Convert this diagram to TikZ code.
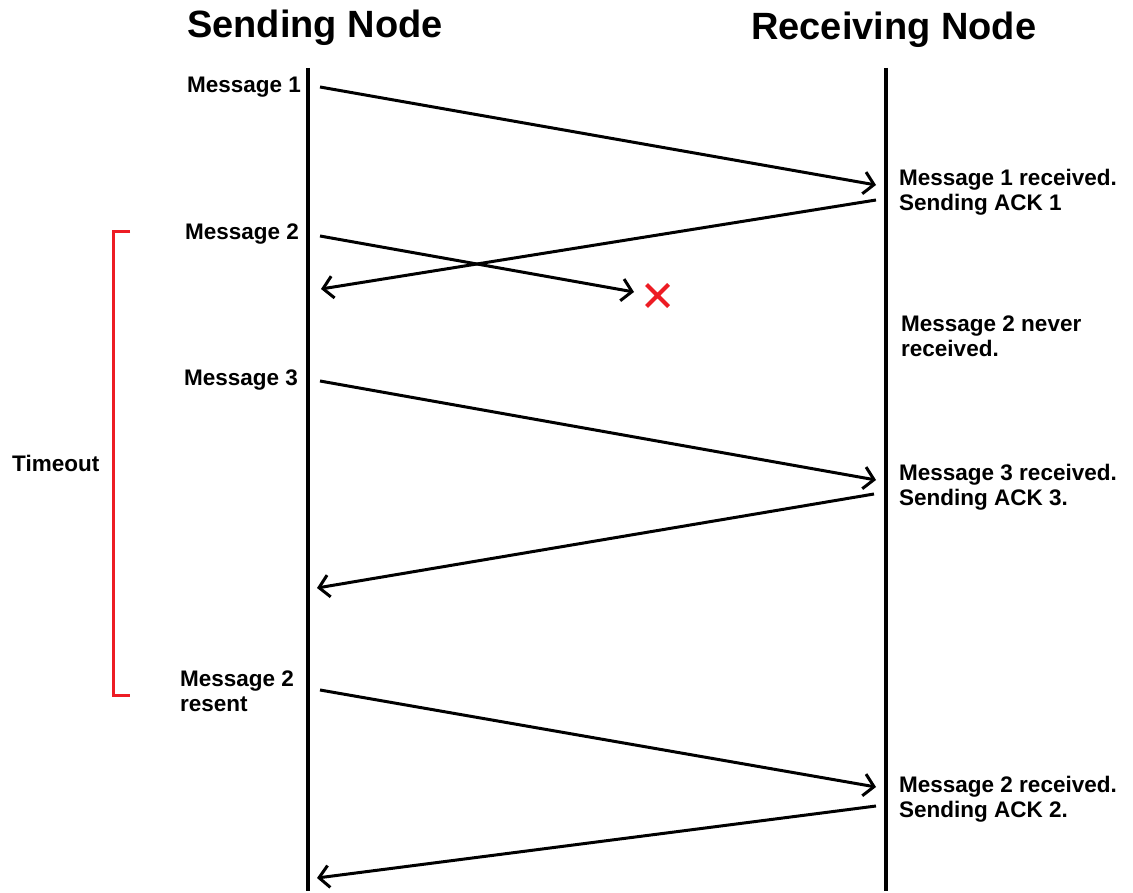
\documentclass[tikz,border=0pt]{standalone}
\usepackage{fontspec}
\setmainfont{Liberation Sans}
\usetikzlibrary{arrows.meta}
\definecolor{paintred}{HTML}{ED1C24}
\tikzset{
  lifeline/.style={line width=3.4pt, black},
  msg/.style={line width=3pt, black, -{Straight Barb[length=10pt,width=22pt,line width=3pt]}},
  title/.style={anchor=base west, inner sep=0pt, font=\fontsize{38}{42}\selectfont\bfseries},
  lbl/.style={anchor=base west, inner sep=0pt, align=left, font=\fontsize{22.5}{25}\selectfont\bfseries},
}
\begin{document}
\begin{tikzpicture}[x=1pt, y=-1pt]
  \useasboundingbox (0,0) rectangle (1133,893);
  \fill[white] (0,0) rectangle (1133,893);

  % headings
  \node[title] (hsend) at (187,38) {Sending Node};
  \node[title] (hrecv) at (751,40) {Receiving Node};

  % lifelines
  \coordinate (sTop) at (308,68);
  \coordinate (sBot) at (308,891);
  \coordinate (rTop) at (886,68);
  \coordinate (rBot) at (886,891);
  \draw[lifeline] (sTop) -- (sBot);
  \draw[lifeline] (rTop) -- (rBot);

  % sender labels (base anchor = last line)
  \node[lbl] (m1) at (187,93) {Message 1};
  \node[lbl] (m2) at (185,240) {Message 2};
  \node[lbl] (m3) at (184,385) {Message 3};
  \node[lbl] (m2r) at (180,711) {Message 2\\resent};
  \node[lbl] (to) at (12,471) {Timeout};

  % receiver labels
  \node[lbl] (r1) at (899,211) {Message 1 received.\\Sending ACK 1};
  \node[lbl] (r2) at (901,357) {Message 2 never\\received.};
  \node[lbl] (r3) at (899,505) {Message 3 received.\\Sending ACK 3.};
  \node[lbl] (r4) at (899,817) {Message 2 received.\\Sending ACK 2.};

  % message endpoints
  \coordinate (a1s) at (320,87);  \coordinate (a1e) at (876,185);
  \coordinate (k1s) at (876,200); \coordinate (k1e) at (321,289);
  \coordinate (a2s) at (320,236); \coordinate (a2e) at (634,292);
  \coordinate (a3s) at (320,381); \coordinate (a3e) at (876,480);
  \coordinate (k3s) at (874,494); \coordinate (k3e) at (317,588);
  \coordinate (a4s) at (320,690); \coordinate (a4e) at (876,787);
  \coordinate (k4s) at (876,806); \coordinate (k4e) at (317,878);

  \draw[msg] (a1s) -- (a1e);
  \draw[msg] (k1s) -- (k1e);
  \draw[msg] (a2s) -- (a2e);
  \draw[msg] (a3s) -- (a3e);
  \draw[msg] (k3s) -- (k3e);
  \draw[msg] (a4s) -- (a4e);
  \draw[msg] (k4s) -- (k4e);

  % lost message mark
  \coordinate (lost) at (657.5,295.5);
  \draw[paintred, line width=4pt] ([shift={(-11,-11)}]lost) -- ([shift={(11,11)}]lost)
                                 ([shift={(-11,11)}]lost) -- ([shift={(11,-11)}]lost);

  % timeout bracket
  \coordinate (bTop) at (130,232);
  \coordinate (bBot) at (130,695);
  \draw[paintred, line width=3pt] (bTop) -| (113,695) -- (bBot);
\end{tikzpicture}
\end{document}
